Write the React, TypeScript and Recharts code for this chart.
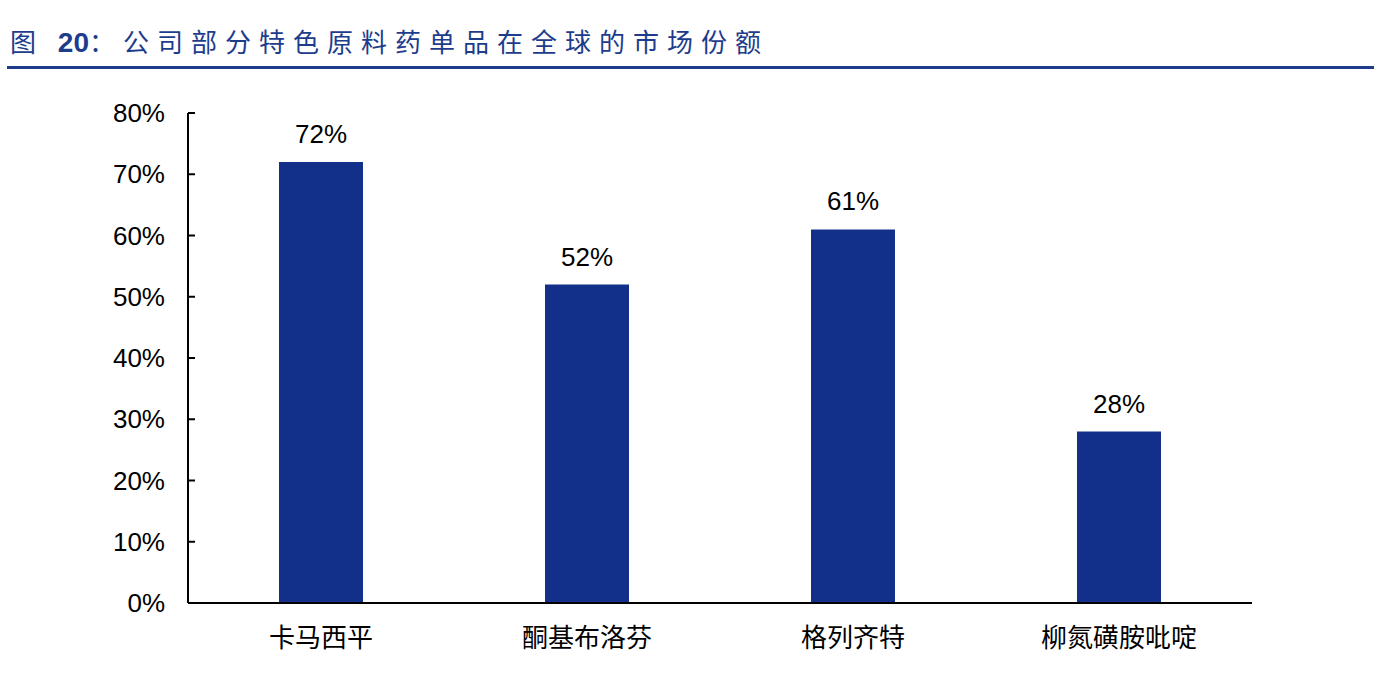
import React from 'react'
import { BarChart, Bar, XAxis, YAxis, LabelList } from 'recharts'

// 产品名称
const products = ['卡马西平', '酮基布洛芬', '格列齐特', '柳氮磺胺吡啶']
// 全球市场份额 (%)
const shares = [72, 52, 61, 28]
const yTicks = [0, 10, 20, 30, 40, 50, 60, 70, 80]

const data = products.map((name, i) => ({ name, share: shares[i] }))

const BLUE = '#12308a'
const numFont = '"Liberation Sans", Arial, sans-serif'
const cjkFont = '"Noto Sans CJK SC", sans-serif'

const App = () => {
  return (
    <div style={{ position: 'absolute', left: 0, top: 0, width: 1374, height: 674, background: '#fff' }}>
      {/* 标题 */}
      <div
        style={{
          position: 'absolute',
          left: 10,
          top: 23,
          color: '#1d3c8c',
          fontFamily: cjkFont,
          fontSize: 26,
          lineHeight: '36px',
          letterSpacing: 8,
          whiteSpace: 'nowrap',
        }}
      >
        图 <span style={{ fontFamily: numFont, fontWeight: 'bold', fontSize: 28, letterSpacing: 0 }}>20</span>：公司部分特色原料药单品在全球的市场份额
      </div>
      <div style={{ position: 'absolute', left: 7, top: 66, width: 1367, height: 3, background: '#1d3c8c' }} />

      <div style={{ position: 'absolute', left: 0, top: 0 }}>
        <BarChart
          width={1374}
          height={674}
          data={data}
          margin={{ top: 113, right: 122, bottom: 21, left: 108 }}
        >
          <XAxis
            dataKey="name"
            axisLine={{ stroke: '#000', strokeWidth: 2 }}
            tickLine={false}
            tickSize={0}
            tickMargin={26}
            height={50}
            interval={0}
            tick={{ fill: '#000', fontSize: 26, fontFamily: cjkFont }}
          />
          <YAxis
            domain={[0, 80]}
            ticks={yTicks}
            width={80}
            axisLine={{ stroke: '#000', strokeWidth: 2 }}
            tickLine={{ stroke: '#000', strokeWidth: 2 }}
            tickSize={-7}
            tickMargin={30}
            tickFormatter={(v: number) => `${v}%`}
            tick={{ fill: '#000', fontSize: 26, fontFamily: numFont }}
          />
          <Bar dataKey="share" fill={BLUE} barSize={84} isAnimationActive={false}>
            <LabelList
              dataKey="share"
              position="top"
              offset={19}
              formatter={(v: number) => `${v}%`}
              style={{ fill: '#000', fontSize: 26, fontFamily: numFont }}
            />
          </Bar>
        </BarChart>
      </div>
    </div>
  )
}

export default App
